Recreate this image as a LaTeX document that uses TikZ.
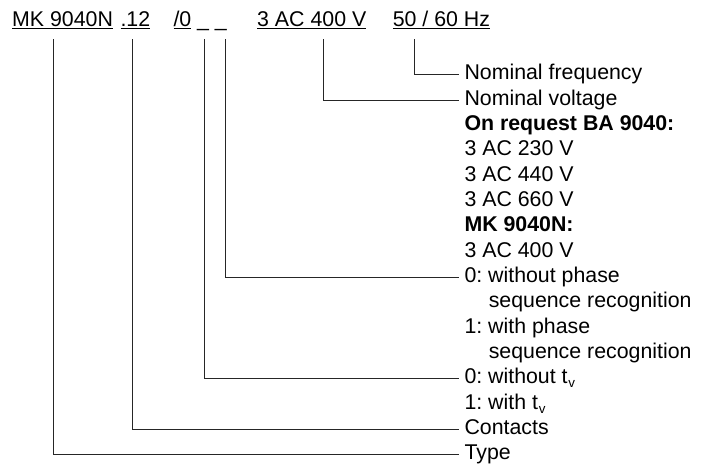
\documentclass[tikz,border=0pt]{standalone}
\usepackage{fontspec}
\setmainfont{Liberation Sans}
\frenchspacing
\tikzset{every picture/.style={line width=0.75pt}}
\tikzset{
  code/.style={anchor=base west, inner sep=0pt, font=\fontsize{16}{19}\selectfont},
  entry/.style={anchor=base west, inner xsep=3.75pt, inner ysep=0pt, text height=11.5pt, text depth=4pt, font=\fontsize{16}{19}\selectfont},
  leg/.style={draw=black!85}
}
\newcommand{\tsubv}{t\kern0.6pt\raisebox{-3pt}{\fontsize{10}{10}\selectfont v}}

\begin{document}
\begin{tikzpicture}[x=0.75pt,y=0.75pt,yscale=-1,xscale=1]
\useasboundingbox (0,0) rectangle (704,466);
% Text Node: type code, top row
\draw (11.7,26.5) node (mk) [code] {\underline{MK 9040N}};
\draw (120,26.5) node (cont) [code] {\underline{.12}};
\draw (173,26.5) node (opt) [code] {\underline{/0} \_ \_};
\draw (256.7,26.5) node (uv) [code] {\underline{3 AC 400 V}};
\draw (392.3,26.5) node (hz) [code] {\underline{50 / 60 Hz}};
% feet of the legs under the code
\coordinate (mkleg) at (53,39.5);
\coordinate (contleg) at (132,39.5);
\coordinate (tvleg) at (204.3,39.5);
\coordinate (phleg) at (225,39.5);
\coordinate (uvleg) at (323.3,39.5);
\coordinate (hzleg) at (414.3,39.5);
% Text Node: legend, right column
\draw (459,80) node (freq) [entry] {Nominal frequency};
\draw (459,105.33) node (volt) [entry] {Nominal voltage};
\draw (459,130.67) node (req) [entry] {\textbf{On request BA 9040:}};
\draw (459,156) node (va) [entry] {3 AC 230 V};
\draw (459,181.33) node (vb) [entry] {3 AC 440 V};
\draw (459,206.67) node (vc) [entry] {3 AC 660 V};
\draw (459,232) node (std) [entry] {\textbf{MK 9040N:}};
\draw (459,257.33) node (vd) [entry] {3 AC 400 V};
\draw (459,282.67) node (phno) [entry] {0: without phase};
\draw (459,308) node (phnob) [entry] {\hspace{18.2pt}sequence recognition};
\draw (459,333.33) node (phyes) [entry] {1: with phase};
\draw (459,358.67) node (phyesb) [entry] {\hspace{18.2pt}sequence recognition};
\draw (459,384) node (tvno) [entry] {0: without \tsubv};
\draw (459,409.33) node (tvyes) [entry] {1: with \tsubv};
\draw (459,434.67) node (contacts) [entry] {Contacts};
\draw (459,460) node (type) [entry] {Type};
% Legs
\draw [leg] (hzleg) |- (freq.west);
\draw [leg] (uvleg) |- (volt.west);
\draw [leg] (phleg) |- (phno.west);
\draw [leg] (tvleg) |- (tvno.west);
\draw [leg] (contleg) |- (contacts.west);
\draw [leg] (mkleg) |- (type.west);
\end{tikzpicture}
\end{document}
